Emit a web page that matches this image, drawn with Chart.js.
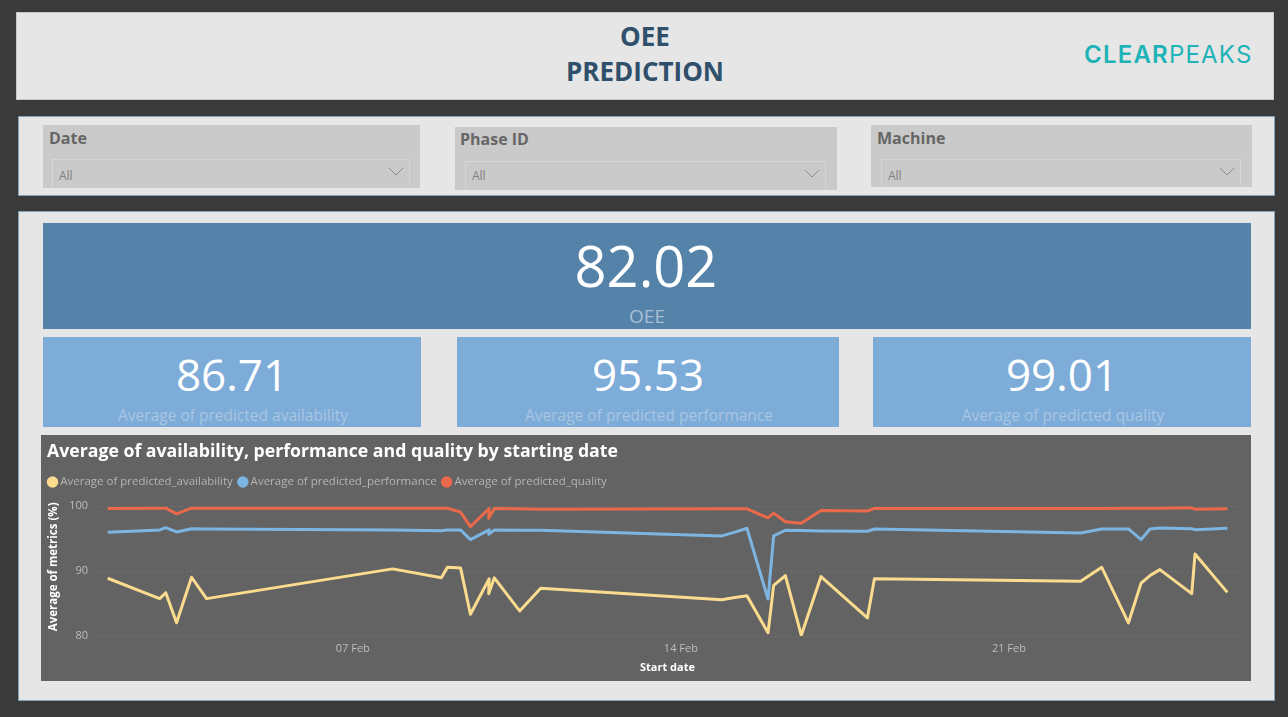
<!DOCTYPE html>
<html>
<head>
<title>OEE Prediction</title>
<style>
    html, body { margin: 0; padding: 0; width: 1288px; height: 717px; overflow: hidden; background: #3a3a3a; font-family: "Open Sans", sans-serif; }
    .box { position: absolute; box-sizing: border-box; }
    .panel { background: #e6e6e6; border: 1px solid #c2c8cc; }
    .panel.blue { border-color: #7fa3bd; }
    .txt { position: absolute; white-space: nowrap; }
    .center { transform: translate(-50%, -50%); }
    .slicer { background: #cacaca; }
    .slicer .inner { position: absolute; box-sizing: border-box; border: 1px solid #d6d6d6; border-bottom: 0; }
    .slicer .name { position: absolute; left: 6px; top: 2px; font-size: 16px; font-weight: 700; color: #666666; }
    .slicer .all { position: absolute; left: 6px; bottom: 3px; font-size: 12px; color: #7f7f7f; }
    .slicer svg { position: absolute; right: 5px; top: 7px; }
    .big { color: #ffffff; }
    .cap { color: #a9c6e2; font-size: 15.5px; }
</style>
</head>
<body>

<div class="box panel" style="left:16px;top:12px;width:1258px;height:88px;"></div>
<div class="txt center" style="left:645px;top:36px;font-size:26px;font-weight:700;color:#2f4f6b;">OEE</div>
<div class="txt center" style="left:645px;top:71px;font-size:26px;font-weight:700;color:#2f4f6b;">PREDICTION</div>
<div class="txt" style="left:1084px;top:41px;font-family:Inter;font-size:24px;line-height:28px;letter-spacing:1.2px;color:#1db3b7;"><span style="font-weight:600;">CLEAR</span><span style="font-weight:400;">PEAKS</span></div>

<div class="box panel blue" style="left:18px;top:116px;width:1257px;height:80px;"></div>

<div class="box slicer" style="left:43px;top:125px;width:377px;height:63px;">
    <div class="name">Date</div>
    <div class="inner" style="left:9px;top:34px;width:358px;height:28px;">
        <div class="all">All</div>
        <svg width="16" height="10"><polyline points="1,1 8,8 15,1" fill="none" stroke="#8c8c8c"/></svg>
    </div>
</div>
<div class="box slicer" style="left:455px;top:127px;width:382px;height:63px;">
    <div class="name" style="top:1px;left:5px;">Phase ID</div>
    <div class="inner" style="left:10px;top:34px;width:361px;height:28px;">
        <div class="all" style="bottom:5px;">All</div>
        <svg width="16" height="10"><polyline points="1,1 8,8 15,1" fill="none" stroke="#8c8c8c"/></svg>
    </div>
</div>
<div class="box slicer" style="left:871px;top:125px;width:381px;height:62px;">
    <div class="name">Machine</div>
    <div class="inner" style="left:10px;top:34px;width:360px;height:27px;">
        <div class="all" style="bottom:2px;">All</div>
        <svg width="16" height="10"><polyline points="1,1 8,8 15,1" fill="none" stroke="#8c8c8c"/></svg>
    </div>
</div>

<div class="box panel blue" style="left:18px;top:211px;width:1257px;height:490px;"></div>

<div class="box" style="left:43px;top:223px;width:1208px;height:106px;background:#5582a9;"></div>
<div class="txt center big" style="left:646px;top:265px;font-size:56px;">82.02</div>
<div class="txt center" style="left:647px;top:316px;font-size:19px;color:#a9c0d6;">OEE</div>

<div class="box" style="left:43px;top:337px;width:378px;height:90px;background:#7dacd9;"></div>
<div class="txt center big" style="left:232px;top:374px;font-size:44px;">86.71</div>
<div class="txt center cap" style="left:233px;top:415px;">Average of predicted availability</div>

<div class="box" style="left:457px;top:337px;width:382px;height:90px;background:#7dacd9;"></div>
<div class="txt center big" style="left:648px;top:374px;font-size:44px;">95.53</div>
<div class="txt center cap" style="left:649px;top:415px;">Average of predicted performance</div>

<div class="box" style="left:873px;top:337px;width:378px;height:90px;background:#7dacd9;"></div>
<div class="txt center big" style="left:1062px;top:374px;font-size:44px;">99.01</div>
<div class="txt center cap" style="left:1063px;top:415px;">Average of predicted quality</div>

<div class="box" style="left:41px;top:435px;width:1210px;height:246px;background:#636363;">
    <canvas id="myChart" width="1210" height="246"></canvas>
</div>

<script src="https://cdn.jsdelivr.net/npm/chart.js"></script>

<script>

    // day of February, availability, performance, quality
    const rows = [
        [1.77, 88.90, 95.98, 99.65],
        [2.88, 85.76, 96.34, 99.69],
        [3.01, 86.67, 96.69, 99.69],
        [3.24, 82.03, 96.03, 98.82],
        [3.56, 89.05, 96.53, 99.69],
        [3.88, 85.76, 96.49, 99.69],
        [7.85, 90.34, 96.34, 99.69],
        [8.89, 88.96, 96.23, 99.69],
        [9.02, 90.58, 96.34, 99.69],
        [9.30, 90.49, 96.34, 99.08],
        [9.51, 83.36, 94.85, 96.84],
        [9.91, 88.81, 96.34, 99.65],
        [9.90, 86.52, 95.68, 98.12],
        [10.02, 88.96, 96.34, 99.65],
        [10.56, 83.86, 96.31, 99.60],
        [11.01, 87.37, 96.29, 99.54],
        [14.87, 85.60, 95.42, 99.59],
        [15.12, 85.90, 95.92, 99.59],
        [15.41, 86.21, 96.60, 99.59],
        [15.86, 80.50, 85.69, 98.21],
        [15.98, 87.79, 95.42, 98.93],
        [16.23, 89.31, 96.29, 97.60],
        [16.57, 80.11, 96.24, 97.36],
        [16.99, 89.16, 96.18, 99.34],
        [17.98, 82.79, 96.14, 99.24],
        [18.13, 88.81, 96.49, 99.65],
        [22.53, 88.44, 95.88, 99.65],
        [22.98, 90.58, 96.49, 99.66],
        [23.55, 82.03, 96.49, 99.68],
        [23.82, 88.14, 94.85, 99.69],
        [24.01, 89.31, 96.49, 99.69],
        [24.22, 90.23, 96.64, 99.69],
        [24.90, 86.52, 96.53, 99.74],
        [24.97, 92.63, 96.38, 99.54],
        [25.66, 86.72, 96.60, 99.59]
    ];

    function series(col) {
        return rows.map(r => ({ x: r[0], y: r[col] }));
    }

    const lineStyle = { borderWidth: 3, pointRadius: 0, tension: 0, borderJoinStyle: 'round' };

    const data = {
        datasets: [
            { label: 'Average of predicted_availability', data: series(1), borderColor: '#fbdc8f', backgroundColor: '#fbdc8f', ...lineStyle },
            { label: 'Average of predicted_performance', data: series(2), borderColor: '#7cb5e2', backgroundColor: '#7cb5e2', ...lineStyle },
            { label: 'Average of predicted_quality', data: series(3), borderColor: '#e9694a', backgroundColor: '#e9694a', ...lineStyle }
        ]
    };

    // legend sits a little left of the title in the original
    const legendShift = {
        id: 'legendShift',
        afterLayout(chart) { chart.legend.left = 1.5; }
    };

    const config = {
        type: 'line',
        data: data,
        plugins: [legendShift],
        options: {
            responsive: false,
            animation: false,
            layout: { padding: { left: 6, right: 11, top: 0, bottom: 0 } },
            scales: {
                x: {
                    type: 'linear',
                    min: 1.5,
                    max: 25.93,
                    afterFit: scale => { scale.height = 45; },
                    grid: { display: false, tickLength: 6 },
                    border: { display: false },
                    ticks: {
                        stepSize: 7,
                        includeBounds: false,
                        maxRotation: 0,
                        padding: 0,
                        color: '#bdbdbd',
                        font: { family: 'Open Sans', size: 11 },
                        callback: v => String(v).padStart(2, '0') + ' Feb'
                    },
                    title: {
                        display: true,
                        text: 'Start date',
                        color: '#ffffff',
                        padding: { top: 4, bottom: 7 },
                        font: { family: 'Open Sans', size: 11, weight: 'bold' }
                    }
                },
                y: {
                    type: 'linear',
                    min: 80,
                    max: 101.3,
                    afterFit: scale => { scale.width = 48; },
                    grid: { color: 'rgba(255,255,255,0.14)', drawTicks: false },
                    border: { display: false, dash: [1, 3] },
                    ticks: {
                        stepSize: 10,
                        includeBounds: false,
                        padding: 7,
                        color: '#bdbdbd',
                        font: { family: 'Open Sans', size: 11 }
                    },
                    title: {
                        display: true,
                        text: 'Average of metrics (%)',
                        color: '#ffffff',
                        padding: 0,
                        font: { family: 'Open Sans', size: 11.5, weight: 'bold' }
                    }
                }
            },
            plugins: {
                title: {
                    display: true,
                    text: 'Average of availability, performance and quality by starting date',
                    align: 'start',
                    color: '#ffffff',
                    padding: { top: 6, bottom: 6 },
                    font: { family: 'Open Sans', size: 17.7, weight: 'bold' }
                },
                legend: {
                    position: 'top',
                    align: 'start',
                    labels: {
                        usePointStyle: true,
                        pointStyle: 'circle',
                        boxWidth: 4,
                        boxHeight: 6,
                        padding: 8,
                        color: '#b4b4b4',
                        font: { family: 'Open Sans', size: 11.5 }
                    }
                },
                tooltip: { enabled: false }
            }
        }
    };

    const xChart = new Chart(document.getElementById('myChart'), config);

</script>

</body>
</html>
